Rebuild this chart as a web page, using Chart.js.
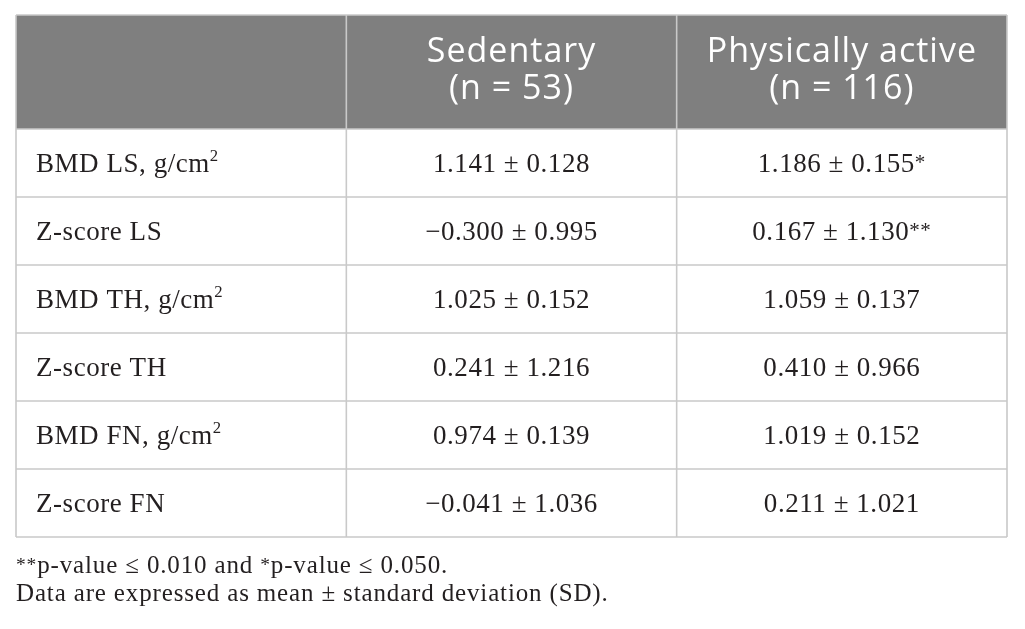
<!DOCTYPE html>
<html><head><meta charset="utf-8">
<script src="https://cdn.jsdelivr.net/npm/chart.js@4.4.1/dist/chart.umd.min.js"></script>
<style>html,body{margin:0;padding:0;background:#fff;overflow:hidden}#wrap{width:1025px;height:629px;position:relative}</style>
</head><body><div id="wrap"><canvas id="c"></canvas></div>
<script>
// ---- data ----
const columns = ['', 'Sedentary', 'Physically active'];
const groupSizes = ['', '(n = 53)', '(n = 116)'];
const rowLabels = ['BMD LS, g/cm²', 'Z-score LS', 'BMD TH, g/cm²', 'Z-score TH', 'BMD FN, g/cm²', 'Z-score FN'];
const sedentaryMean = [1.141, -0.300, 1.025, 0.241, 0.974, -0.041];
const sedentarySD   = [0.128, 0.995, 0.152, 1.216, 0.139, 1.036];
const activeMean    = [1.186, 0.167, 1.059, 0.410, 1.019, 0.211];
const activeSD      = [0.155, 1.130, 0.137, 0.966, 0.152, 1.021];
const activeSignif  = ['*', '**', '', '', '', ''];
const footnotes = ['**p-value ≤ 0.010 and *p-value ≤ 0.050.', 'Data are expressed as mean ± standard deviation (SD).'];

// ---- style ----
const HEADER_H = 114;
const SERIF = '"Liberation Serif", "DejaVu Serif", serif';
const SANS = '"Open Sans", "Noto Sans", sans-serif';
const BODY_SIZE = 27;
const BODY_LS = 0.55;
const FOOT_SIZE = 25;
const FOOT_LS = 0.85;
const HEAD_SIZE = 34;
const HEAD_LS = 1;
const TEXT_COLOR = '#231f20';
const LINE_COLOR = '#c9c9c9';
const HEAD_BG = '#7f7f7f';

function fmt(v) { return (v < 0 ? '\u2212' : '') + Math.abs(v).toFixed(3); }
const sedentaryText = sedentaryMean.map((m, i) => fmt(m) + ' ± ' + sedentarySD[i].toFixed(3));
const activeText = activeMean.map((m, i) => fmt(m) + ' ± ' + activeSD[i].toFixed(3) + activeSignif[i]);

function runsOf(text) {
  const runs = [];
  for (const ch of text) {
    let sup = false, c = ch;
    if (ch === '²') { sup = 'num'; c = '2'; }
    else if (ch === '*') { sup = 'ast'; }
    const last = runs[runs.length - 1];
    if (last && last.sup === sup) last.t += c; else runs.push({ t: c, sup });
  }
  return runs;
}
function drawRich(ctx, text, x, y, align, size, family, color, ls) {
  const runs = runsOf(text);
  const fontFor = r => r.sup === 'num' ? (size * 0.62) + 'px ' + family
                    : r.sup === 'ast' ? (size * 0.78) + 'px ' + family
                    : size + 'px ' + family;
  ctx.letterSpacing = (ls || 0) + 'px';
  let w = 0;
  runs.forEach(r => { ctx.font = fontFor(r); r.w = ctx.measureText(r.t).width; w += r.w; });
  let cx = align === 'center' ? x - w / 2 : x;
  ctx.fillStyle = color; ctx.textAlign = 'left'; ctx.textBaseline = 'alphabetic';
  runs.forEach(r => {
    ctx.font = fontFor(r);
    const dy = r.sup === 'num' ? -size * 0.40 : r.sup === 'ast' ? -size * 0.10 : 0;
    ctx.fillText(r.t, cx, y + dy);
    cx += r.w;
  });
  ctx.letterSpacing = '0px';
}

const tablePlugin = {
  id: 'tableDraw',
  afterDatasetsDraw(chart) {
    const { ctx, chartArea: a } = chart;
    const xs = chart.scales.x, ys = chart.scales.y;
    const colW = xs.getPixelForValue(1) - xs.getPixelForValue(0);
    const rowH = ys.getPixelForValue(1) - ys.getPixelForValue(0);
    const top = a.top - HEADER_H;
    ctx.save();
    // header background
    ctx.fillStyle = HEAD_BG;
    ctx.fillRect(a.left, top, a.right - a.left, HEADER_H);
    // header text
    columns.forEach((c, i) => {
      if (!c) return;
      const cx = xs.getPixelForValue(i);
      drawRich(ctx, c, cx, a.top - 67, 'center', HEAD_SIZE, SANS, '#ffffff', HEAD_LS);
      drawRich(ctx, groupSizes[i], cx, a.top - 30, 'center', HEAD_SIZE, SANS, '#ffffff', HEAD_LS);
    });
    // lines
    ctx.strokeStyle = LINE_COLOR; ctx.lineWidth = 1.6;
    ctx.beginPath();
    for (let i = 0; i <= columns.length; i++) {
      const x = xs.getPixelForValue(i) - colW / 2;
      ctx.moveTo(x, top); ctx.lineTo(x, a.bottom);
    }
    ctx.moveTo(a.left, top); ctx.lineTo(a.right, top);
    for (let j = 0; j <= rowLabels.length; j++) {
      const y = ys.getPixelForValue(j) - rowH / 2;
      ctx.moveTo(a.left, y); ctx.lineTo(a.right, y);
    }
    ctx.stroke();
    // body text
    rowLabels.forEach((r, j) => {
      const cy = ys.getPixelForValue(j);
      drawRich(ctx, r, xs.getPixelForValue(0) - colW / 2 + 20, cy + 9, 'left', BODY_SIZE, SERIF, TEXT_COLOR, BODY_LS);
    });
    chart.data.datasets.forEach((ds, di) => {
      const meta = chart.getDatasetMeta(di);
      meta.data.forEach((pt, j) => {
        drawRich(ctx, ds.cellText[j], pt.x, pt.y + 9, 'center', BODY_SIZE, SERIF, TEXT_COLOR, BODY_LS);
      });
    });
    // footnotes
    drawRich(ctx, footnotes[0], a.left, a.bottom + 36, 'left', FOOT_SIZE, SERIF, TEXT_COLOR, FOOT_LS);
    drawRich(ctx, footnotes[1], a.left, a.bottom + 64, 'left', FOOT_SIZE, SERIF, TEXT_COLOR, FOOT_LS);
    ctx.restore();
  }
};

new Chart(document.getElementById('c'), {
  type: 'line',
  data: {
    labels: columns,
    datasets: [
      { label: columns[1], data: rowLabels.map(r => ({ x: columns[1], y: r })), cellText: sedentaryText,
        showLine: false, pointRadius: 0, pointHoverRadius: 0 },
      { label: columns[2], data: rowLabels.map(r => ({ x: columns[2], y: r })), cellText: activeText,
        showLine: false, pointRadius: 0, pointHoverRadius: 0 }
    ]
  },
  options: {
    responsive: true, maintainAspectRatio: false, animation: false,
    layout: { padding: { top: 129, left: 16, right: 18, bottom: 92 } },
    plugins: { legend: { display: false }, tooltip: { enabled: false } },
    events: [],
    scales: {
      x: { type: 'category', labels: columns, offset: true, display: false },
      y: { type: 'category', labels: rowLabels, offset: true, display: false }
    }
  },
  plugins: [tablePlugin]
});
</script></body></html>
